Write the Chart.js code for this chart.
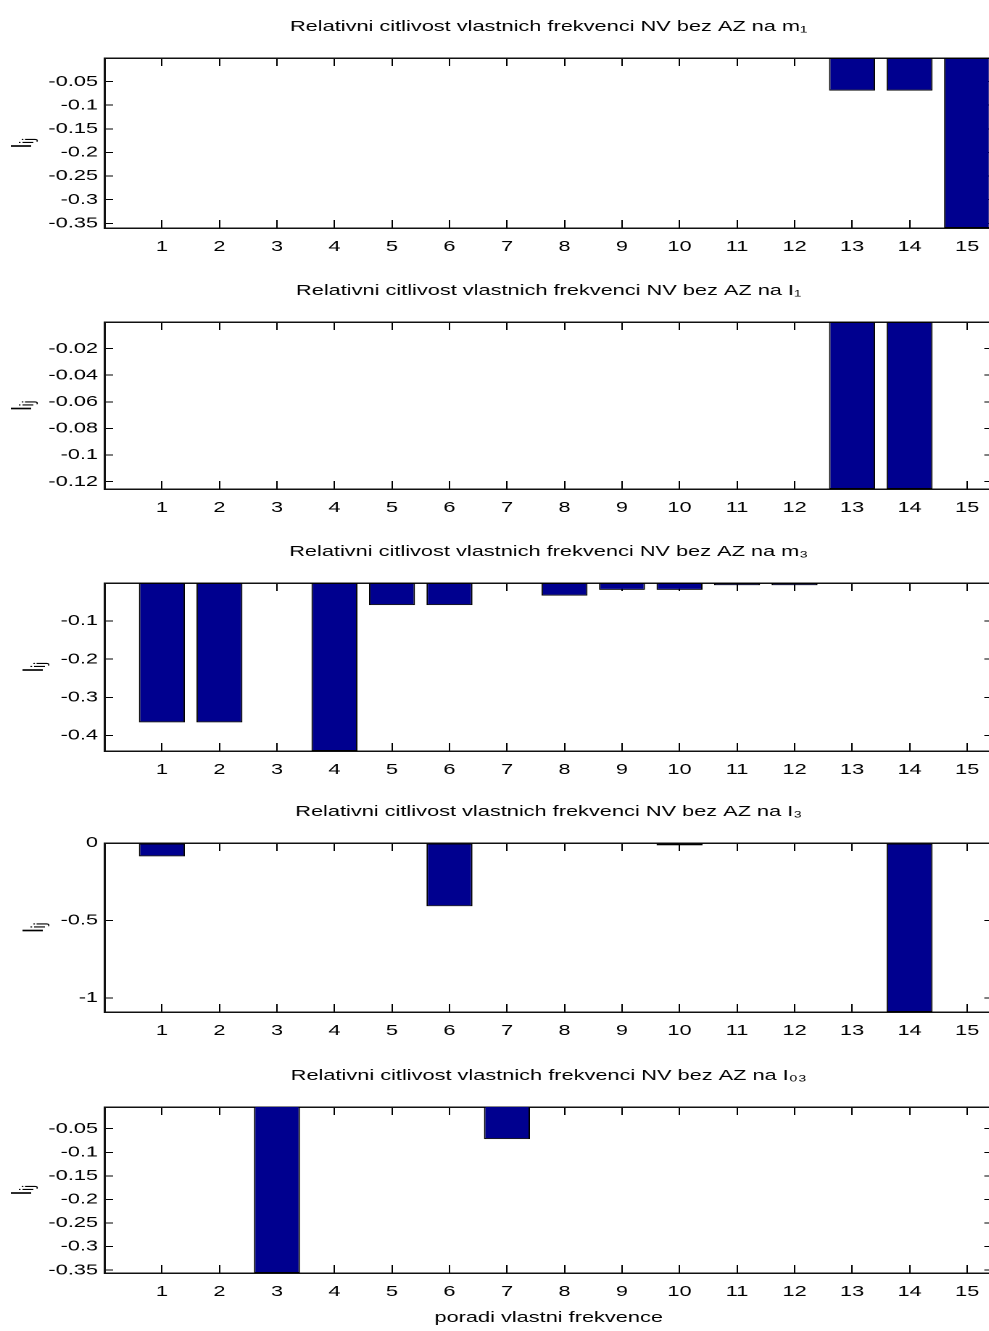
<!DOCTYPE html>
<html>
<head>
<meta charset="utf-8">
<script src="https://cdn.jsdelivr.net/npm/chart.js@4.4.1/dist/chart.umd.min.js"></script>
<style>
  html, body { margin: 0; padding: 0; background: #fff; overflow: hidden; width: 989px; height: 1331px; }
  .panel { position: absolute; left: 0; transform-origin: 0 0; }
  .panel canvas { display: block; }
</style>
</head>
<body>
<div class="panel" id="p1"><canvas id="c1"></canvas></div>
<div class="panel" id="p2"><canvas id="c2"></canvas></div>
<div class="panel" id="p3"><canvas id="c3"></canvas></div>
<div class="panel" id="p4"><canvas id="c4"></canvas></div>
<div class="panel" id="p5"><canvas id="c5"></canvas></div>
<script>
// ---------- data ----------
const categories = [1, 2, 3, 4, 5, 6, 7, 8, 9, 10, 11, 12, 13, 14, 15];

const sensM1  = [0, 0, 0, 0, 0, 0, 0, 0, 0, 0, 0, 0, -0.069, -0.069, -0.36];
const sensI1  = [0, 0, 0, 0, 0, 0, 0, 0, 0, 0, 0, 0, -0.1255, -0.1255, 0];
const sensM3  = [-0.366, -0.366, 0, -0.441, -0.058, -0.058, 0, -0.033, -0.018, -0.018, -0.006, -0.006, 0, 0, 0];
const sensI3  = [-0.086, 0, 0, 0, 0, -0.408, 0, 0, 0, -0.015, 0, 0, 0, -1.09, 0];
const sensI03 = [0, 0, -0.356, 0, 0, 0, -0.072, 0, 0, 0, 0, 0, 0, 0, 0];

const yTicksM1  = [-0.05, -0.1, -0.15, -0.2, -0.25, -0.3, -0.35];
const yTicksI1  = [-0.02, -0.04, -0.06, -0.08, -0.1, -0.12];
const yTicksM3  = [-0.1, -0.2, -0.3, -0.4];
const yTicksI3  = [0, -0.5, -1];
const yTicksI03 = [-0.05, -0.1, -0.15, -0.2, -0.25, -0.3, -0.35];

const yRangeM1  = [-0.36, 0];
const yRangeI1  = [-0.1255, 0];
const yRangeM3  = [-0.441, 0];
const yRangeI3  = [-1.09, 0];
const yRangeI03 = [-0.356, -0.004];

const xRange = [0, 15.45];

const titleM1  = 'Relativni citlivost vlastnich frekvenci NV bez AZ na m\u2081';
const titleI1  = 'Relativni citlivost vlastnich frekvenci NV bez AZ na I\u2081';
const titleM3  = 'Relativni citlivost vlastnich frekvenci NV bez AZ na m\u2083';
const titleI3  = 'Relativni citlivost vlastnich frekvenci NV bez AZ na I\u2083';
const titleI03 = 'Relativni citlivost vlastnich frekvenci NV bez AZ na I\u2080\u2083';
const yLabel = 'l\u1D62\u2C7C';
const xLabel = 'poradi vlastni frekvence';

// ---------- style / layout ----------
const SX = 1.45;            // horizontal stretch of the original figure
const NAT_W = 690;          // natural canvas width (before stretch)
const BAR_FILL = 'rgb(0,0,143)';
Chart.defaults.font.family = "'Liberation Sans', Arial, Helvetica, sans-serif";
Chart.defaults.font.size = 15;
Chart.defaults.color = '#000';

const panels = [
  { id: 1, top: 16,   height: 247, values: sensM1,  yTicks: yTicksM1,  yRange: yRangeM1,  title: titleM1,  yTitlePad: 5,  xAxisH: 35, showX: false },
  { id: 2, top: 280,  height: 244, values: sensI1,  yTicks: yTicksI1,  yRange: yRangeI1,  title: titleI1,  yTitlePad: 5,  xAxisH: 35, showX: false },
  { id: 3, top: 541,  height: 245, values: sensM3,  yTicks: yTicksM3,  yRange: yRangeM3,  title: titleM3,  yTitlePad: 13, xAxisH: 35, showX: false },
  { id: 4, top: 801,  height: 246, values: sensI3,  yTicks: yTicksI3,  yRange: yRangeI3,  title: titleI3,  yTitlePad: 13, xAxisH: 35, showX: false },
  { id: 5, top: 1065, height: 268, values: sensI03, yTicks: yTicksI03, yRange: yRangeI03, title: titleI03, yTitlePad: 5,  xAxisH: 60, showX: true }
];

const border = { display: true, color: '#111', width: 1.5 };

function xTicksSetter(scale) { scale.ticks = categories.map(v => ({ value: v })); }

panels.forEach(p => {
  const div = document.getElementById('p' + p.id);
  div.style.top = p.top + 'px';
  div.style.width = NAT_W + 'px';
  div.style.height = p.height + 'px';
  div.style.transform = 'scaleX(' + SX + ')';
  const canvas = document.getElementById('c' + p.id);
  canvas.width = NAT_W;
  canvas.height = p.height;
  canvas.style.width = NAT_W + 'px';
  canvas.style.height = p.height + 'px';

  const yTicksSetter = scale => { scale.ticks = p.yTicks.map(v => ({ value: v })); };

  new Chart(canvas, {
    type: 'bar',
    data: {
      datasets: [{
        data: categories.map((c, i) => ({ x: c, y: p.values[i] })),
        backgroundColor: BAR_FILL,
        borderColor: '#000',
        borderWidth: 1,
        borderSkipped: false,
        barPercentage: 0.8,
        categoryPercentage: 1
      }]
    },
    options: {
      responsive: false,
      animation: false,
      devicePixelRatio: 2,
      events: [],
      layout: { padding: { left: 0, right: 5.2, top: 0, bottom: 0 }, autoPadding: false },
      plugins: {
        legend: { display: false },
        tooltip: { enabled: false },
        title: {
          display: true, text: p.title, fullSize: false, color: '#000',
          font: { size: 15, weight: 'normal' }, padding: { top: 2, bottom: 22 }
        }
      },
      scales: {
        x: {
          type: 'linear', position: 'bottom', min: xRange[0], max: xRange[1], offset: false,
          afterBuildTicks: xTicksSetter,
          afterFit: s => { s.height = p.xAxisH; s.paddingLeft = 0; s.paddingRight = 0; },
          ticks: { autoSkip: false, maxRotation: 0, minRotation: 0, padding: 18, color: '#000', callback: v => String(v) },
          grid: { display: true, drawOnChartArea: false, drawTicks: true, tickLength: -8, color: '#000', offset: false },
          border: border,
          title: { display: p.showX, text: xLabel, color: '#000', font: { size: 15 }, padding: { top: 0, bottom: 6 } }
        },
        x2: {
          type: 'linear', position: 'top', min: xRange[0], max: xRange[1], offset: false,
          afterBuildTicks: xTicksSetter,
          afterFit: s => { s.height = 0; s.paddingLeft = 0; s.paddingRight = 0; },
          ticks: { display: false },
          grid: { display: true, drawOnChartArea: false, drawTicks: true, tickLength: -8, color: '#000', offset: false },
          border: border
        },
        y: {
          type: 'linear', position: 'left', min: p.yRange[0], max: p.yRange[1], beginAtZero: false,
          afterBuildTicks: yTicksSetter,
          afterFit: s => { s.width = 72; s.paddingTop = 0; s.paddingBottom = 0; },
          ticks: { autoSkip: false, padding: 10.4, color: '#000', callback: v => String(v) },
          grid: { display: true, drawOnChartArea: false, drawTicks: true, tickLength: -6, color: '#000' },
          border: border,
          title: { display: true, text: yLabel, color: '#000', font: { size: 19 }, padding: { top: p.yTitlePad, bottom: 0 } }
        },
        y2: {
          type: 'linear', position: 'right', min: p.yRange[0], max: p.yRange[1], beginAtZero: false,
          afterBuildTicks: yTicksSetter,
          afterFit: s => { s.width = 0; s.paddingTop = 0; s.paddingBottom = 0; },
          ticks: { display: false },
          grid: { display: true, drawOnChartArea: false, drawTicks: true, tickLength: -6, color: '#000' },
          border: border
        }
      }
    }
  });
});
</script>
</body>
</html>
